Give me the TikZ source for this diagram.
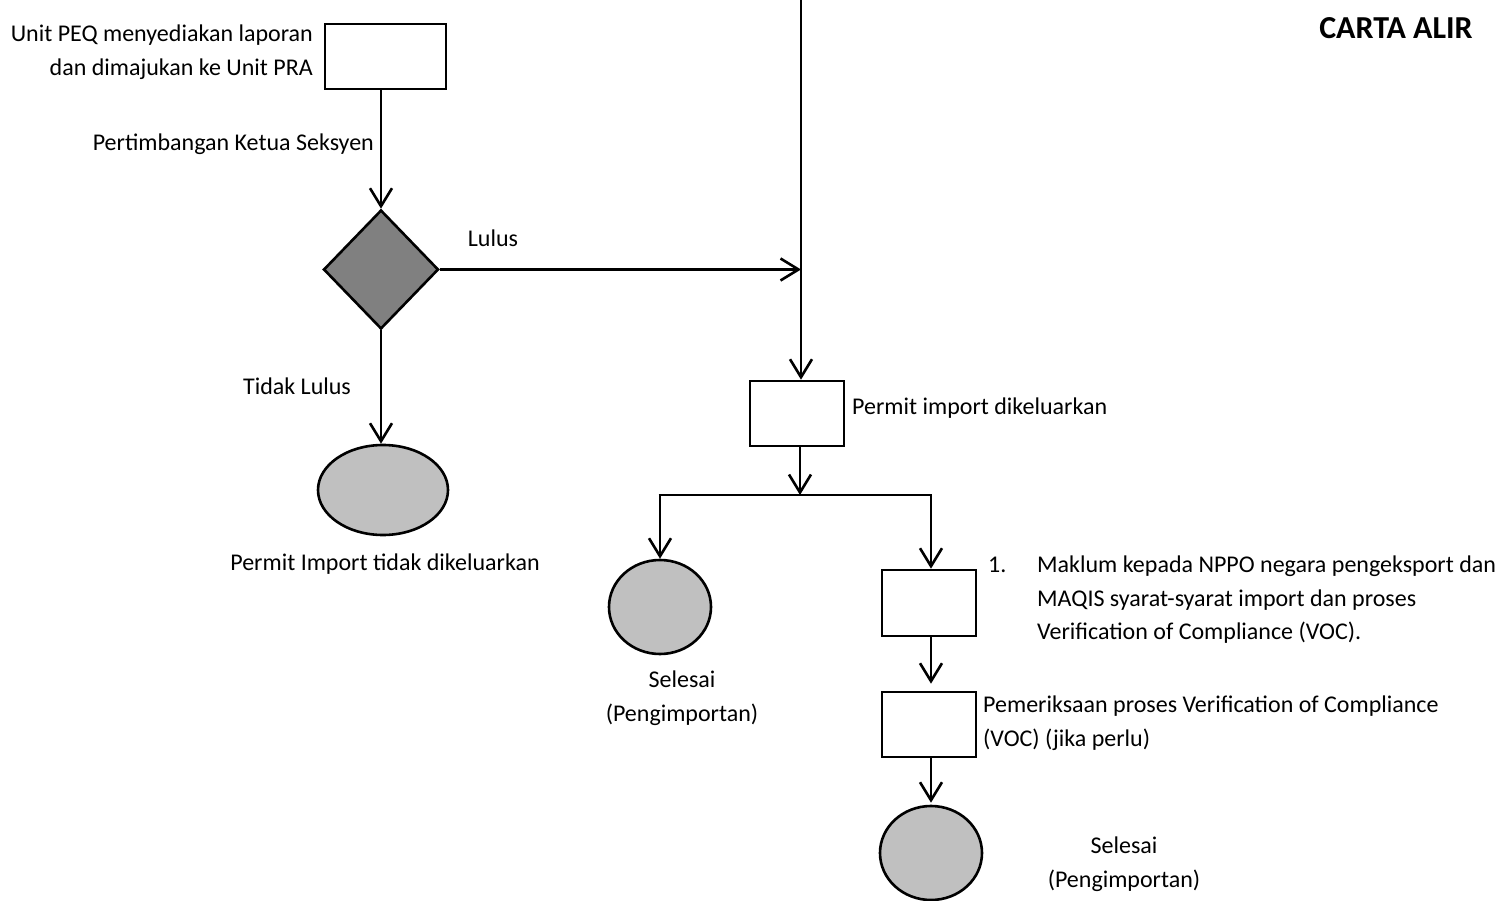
\documentclass[tikz,border=0pt]{standalone}
\usepackage{fontspec}
\setmainfont{Carlito}
\usetikzlibrary{arrows.meta,shapes.geometric}
\begin{document}
\begin{tikzpicture}[x=1pt,y=-1pt,
  every node/.style={font=\fontsize{24}{30}\selectfont},
  conn/.style={line width=2.6pt},
  arr/.style={conn,-{Straight Barb[length=18pt,width=22pt,line width=2.6pt]}},
  procbox/.style={draw,line width=2.6pt,rectangle,minimum width=#1,inner sep=0},
  procbox/.default=94pt,
  decide/.style={draw,line width=2.6pt,diamond,fill={rgb,255:red,128;green,128;blue,128},minimum width=115pt,minimum height=119pt,inner sep=0},
  term/.style={draw,line width=2.6pt,ellipse,fill={rgb,255:red,192;green,192;blue,192},inner sep=0},
  lbl/.style={inner sep=0,text height=17pt,text depth=5pt}]
\useasboundingbox (0,0) rectangle (1500,901);

% nodes
\node[procbox=121pt,minimum height=65pt] (b1) at (385.5,56.5) {};
\node[decide] (d) at (381,269.5) {};
\node[term,minimum width=130pt,minimum height=90pt] (e1) at (383,490) {};
\node[procbox,minimum height=65pt] (b2) at (797,413.5) {};
\node[term,minimum width=102pt,minimum height=94pt] (c1) at (660,607) {};
\node[procbox,minimum height=66pt] (b3) at (929,603) {};
\node[procbox,minimum height=65pt] (b4) at (929,724.5) {};
\node[term,minimum width=102pt,minimum height=94pt] (c2) at (931,853) {};

\coordinate (top) at (801,0);
\coordinate (j) at (801,269.5);
\coordinate (sp) at (800,495);
\coordinate (spL) at (660,495);
\coordinate (spR) at (931,495);

% texts
\node[lbl,anchor=east] (t1) at (313,36) {Unit PEQ menyediakan laporan};
\node[lbl,anchor=east] (t2) at (313,70) {dan dimajukan ke Unit PRA};
\node[lbl,anchor=east] (t3) at (374,145) {Pertimbangan Ketua Seksyen};
\node[lbl] (t4) at (493,241) {Lulus};
\node[lbl] (t5) at (297,389) {Tidak Lulus};
\node[lbl] (t6) at (385,564) {Permit Import tidak dikeluarkan};
\node[lbl,anchor=west] (t7) at (852,408) {Permit import dikeluarkan};
\node[lbl] (t8) at (682,681) {Selesai};
\node[lbl] (t9) at (682,715) {(Pengimportan)};
\node[lbl,anchor=west] (t10) at (988,566) {1.};
\node[lbl,anchor=west] (t11) at (1037,566) {Maklum kepada NPPO negara pengeksport dan};
\node[lbl,anchor=west] (t12) at (1037,600) {MAQIS syarat-syarat import dan proses};
\node[lbl,anchor=west] (t13) at (1037,633) {Verification of Compliance (VOC).};
\node[lbl,anchor=west] (t14) at (983,706) {Pemeriksaan proses Verification of Compliance};
\node[lbl,anchor=west] (t15) at (983,740) {(VOC) (jika perlu)};
\node[lbl] (t16) at (1124,847) {Selesai};
\node[lbl] (t17) at (1124,881) {(Pengimportan)};
\node[inner sep=0,font=\fontsize{32}{36}\selectfont\bfseries] (t18) at (1396,28) {CARTA ALIR};

% connectors
\draw[arr] (b1.south -| d.north) -- (d.north);
\draw[arr] (d.east) -- (j);
\draw[arr] (top) -- (top |- b2.north);
\draw[arr] (d.south) -- (d.south |- e1.north);
\draw[arr] (b2.south -| sp) -- (sp);
\draw[conn] ([xshift=-1.3pt]spL) -- ([xshift=1.3pt]spR);
\draw[arr] (spL) -- (c1.north);
\draw[arr] (spR) -- (spR |- b3.north);
\draw[arr,shorten >=7pt] (b3.south -| spR) -- (spR |- b4.north);
\draw[arr,shorten >=2pt] (b4.south -| spR) -- (c2.north);
\end{tikzpicture}
\end{document}
